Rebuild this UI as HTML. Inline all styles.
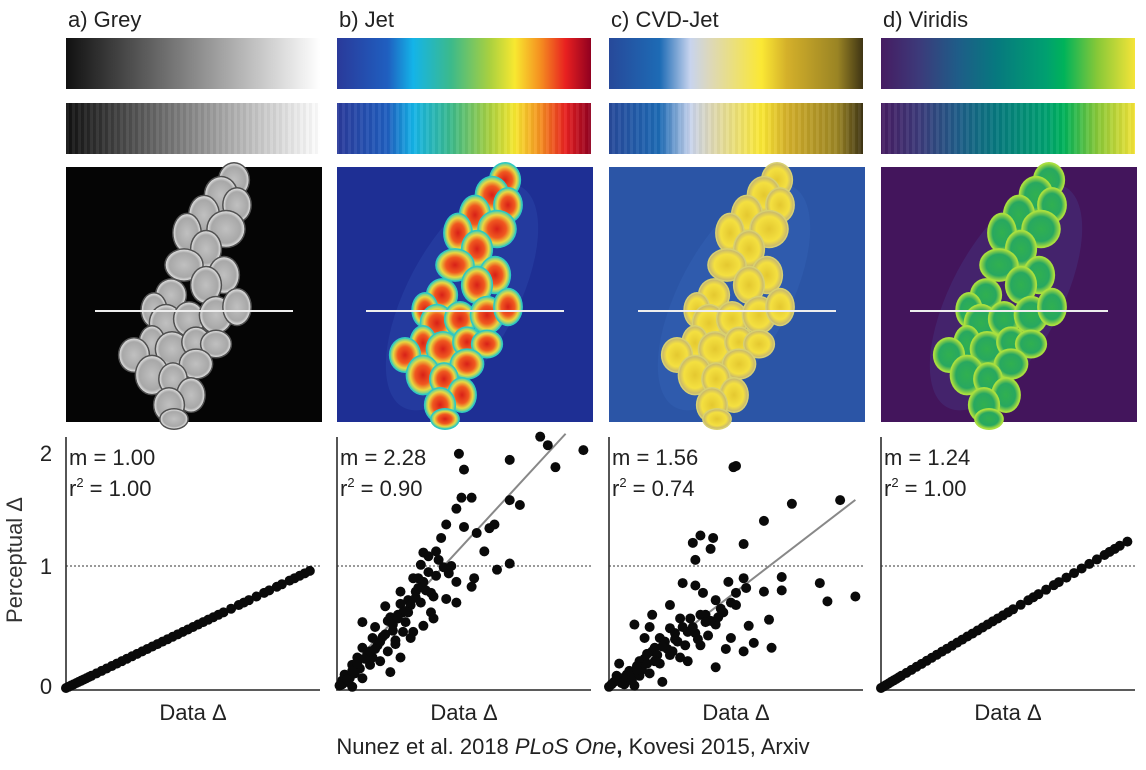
<!DOCTYPE html>
<html><head><meta charset="utf-8"><style>
html,body{margin:0;padding:0;background:#fff;width:1146px;height:770px;overflow:hidden}
svg{display:block;font-family:"Liberation Sans",sans-serif}
</style></head><body>
<svg id="fig" width="1146" height="770" viewBox="0 0 1146 770" xmlns="http://www.w3.org/2000/svg">
<defs>
<linearGradient id="g-grey"><stop offset="0" stop-color="#111"/><stop offset="1" stop-color="#fff"/></linearGradient>
<linearGradient id="g-jet"><stop offset="0" stop-color="#2a3a9a"/><stop offset="0.2" stop-color="#1f5fc0"/><stop offset="0.3" stop-color="#14b4e8"/><stop offset="0.45" stop-color="#3cba8a"/><stop offset="0.6" stop-color="#a8d040"/><stop offset="0.7" stop-color="#f8e830"/><stop offset="0.8" stop-color="#f59020"/><stop offset="0.9" stop-color="#e82020"/><stop offset="1" stop-color="#900020"/></linearGradient>
<linearGradient id="g-cvd"><stop offset="0" stop-color="#27499a"/><stop offset="0.2" stop-color="#1d6bb5"/><stop offset="0.32" stop-color="#c8d4ee"/><stop offset="0.4" stop-color="#ddd8b8"/><stop offset="0.6" stop-color="#fbe834"/><stop offset="0.7" stop-color="#d4b02a"/><stop offset="0.9" stop-color="#9a8424"/><stop offset="1" stop-color="#3e3414"/></linearGradient>
<linearGradient id="g-vir"><stop offset="0" stop-color="#461c62"/><stop offset="0.15" stop-color="#3c3a7a"/><stop offset="0.3" stop-color="#1f5c88"/><stop offset="0.45" stop-color="#07787f"/><stop offset="0.65" stop-color="#00a070"/><stop offset="0.72" stop-color="#00b35a"/><stop offset="0.85" stop-color="#86c838"/><stop offset="1" stop-color="#f5e438"/></linearGradient>
<pattern id="stripes" width="6" height="10" patternUnits="userSpaceOnUse"><rect width="3" height="10" fill="rgba(255,255,255,0.06)"/><rect x="3" width="3" height="10" fill="rgba(0,0,0,0.03)"/></pattern>
<radialGradient id="c-grey"><stop offset="0" stop-color="#c0c0c0"/><stop offset="0.8" stop-color="#a8a8a8"/><stop offset="1" stop-color="#e0e0e0"/></radialGradient>
<radialGradient id="c-jet"><stop offset="0" stop-color="#d82018"/><stop offset="0.5" stop-color="#f05820"/><stop offset="0.8" stop-color="#e8d840"/><stop offset="1" stop-color="#60d0a0"/></radialGradient>
<radialGradient id="c-cvd"><stop offset="0" stop-color="#e4c830"/><stop offset="0.7" stop-color="#f4e040"/><stop offset="1" stop-color="#c8b870"/></radialGradient>
<radialGradient id="c-vir"><stop offset="0" stop-color="#30b050"/><stop offset="0.7" stop-color="#28a860"/><stop offset="1" stop-color="#a0d840"/></radialGradient>
</defs>
<g id="panels"></g>
<text x="22" y="560" font-size="22" fill="#333" text-anchor="middle" transform="rotate(-90 22 560)">Perceptual Δ</text>
<text x="46" y="461" font-size="22" fill="#222" text-anchor="middle">2</text>
<text x="46" y="574" font-size="22" fill="#222" text-anchor="middle">1</text>
<text x="46" y="694" font-size="22" fill="#222" text-anchor="middle">0</text>
<text x="573" y="754" font-size="22" fill="#222" text-anchor="middle">Nunez et al. 2018 <tspan font-style="italic">PLoS One</tspan><tspan font-weight="bold">,</tspan> Kovesi 2015, Arxiv</text>
</svg>
<script>
// ---- data ----
const panelTitles = ["a) Grey","b) Jet","c) CVD-Jet","d) Viridis"];
const slopeLabels = ["m = 1.00","m = 2.28","m = 1.56","m = 1.24"];
const r2Labels = ["1.00","0.90","0.74","1.00"];
const fitSlopes = [null, 2.26, 1.6, null];
const fitIntercepts = [null, 0.05, -0.01, null];
const fitRanges = [null, [0.08,0.9], [0.3,0.97], null];
const aX = [0,0.01,0.02,0.03,0.04,0.05,0.06,0.07,0.08,0.09,0.1,0.12,0.14,0.16,0.18,0.2,0.22,0.24,0.26,0.28,0.3,0.32,0.34,0.36,0.38,0.4,0.42,0.44,0.46,0.48,0.5,0.52,0.54,0.56,0.58,0.6,0.62,0.65,0.68,0.7,0.72,0.75,0.78,0.8,0.83,0.85,0.88,0.9,0.92,0.94,0.96];
const aY = [0,0.01,0.02,0.03,0.04,0.05,0.06,0.07,0.08,0.09,0.1,0.12,0.14,0.16,0.18,0.2,0.22,0.24,0.26,0.28,0.3,0.32,0.34,0.36,0.38,0.4,0.42,0.44,0.46,0.48,0.5,0.52,0.54,0.56,0.58,0.6,0.62,0.65,0.68,0.7,0.72,0.75,0.78,0.8,0.83,0.85,0.88,0.9,0.92,0.94,0.96];
const bX = [0.48,0.50,0.68,0.80,0.83,0.86,0.97,0.47,0.49,0.53,0.68,0.72,0.43,0.50,0.55,0.60,0.62,0.58,0.41,0.39,0.34,0.33,0.42,0.44,0.47,0.54,0.53,0.63,0.68,0.30,0.34,0.25,0.31,0.38,0.43,0.47,0.19,0.25,0.21,0.37,0.38,0.10,0.15,0.27,0.30,0.34,0.14,0.23,0.29,0.10,0.20,0.25,0.08,0.06,0.13,0.21,0.03,0.02,0.06,0.10,0.17,0.26,0.33,0.04,0.07,0.12,0.16,0.18,0.22,0.09,0.05,0.01,0.14,0.20,0.24,0.28,0.32,0.36,0.40,0.02,0.04,0.06,0.08,0.11,0.13,0.15,0.17,0.19,0.22,0.24,0.27,0.29,0.31,0.35,0.37,0.39,0.45,0.36,0.32,0.28,0.26,0.23];
const bY = [1.92,1.79,1.87,2.06,1.99,1.81,1.95,1.47,1.56,1.56,1.54,1.50,1.34,1.32,1.27,1.31,1.34,1.12,1.23,1.12,1.11,1.01,0.99,0.94,0.87,0.90,0.83,0.97,1.02,0.90,0.87,0.79,0.79,0.75,0.73,0.70,0.67,0.69,0.58,0.62,0.57,0.54,0.50,0.54,0.46,0.51,0.41,0.39,0.41,0.33,0.30,0.25,0.25,0.19,0.19,0.13,0.11,0.06,0.01,0.08,0.22,0.62,0.70,0.05,0.12,0.28,0.35,0.42,0.47,0.16,0.08,0.02,0.25,0.55,0.60,0.72,0.82,0.95,1.05,0.03,0.07,0.14,0.2,0.24,0.3,0.32,0.38,0.44,0.52,0.57,0.63,0.68,0.74,0.8,0.78,0.92,1.0,1.08,0.9,0.62,0.46,0.36];
const cX = [0.49,0.50,0.72,0.91,0.61,0.33,0.36,0.41,0.40,0.53,0.34,0.29,0.34,0.37,0.47,0.53,0.54,0.68,0.68,0.61,0.83,0.86,0.97,0.42,0.50,0.24,0.17,0.10,0.16,0.28,0.32,0.36,0.38,0.42,0.24,0.31,0.55,0.63,0.39,0.48,0.14,0.20,0.27,0.36,0.57,0.46,0.53,0.64,0.17,0.24,0.31,0.04,0.12,0.42,0.16,0.21,0.07,0.02,0.10,0.00,0.05,0.08,0.11,0.14,0.18,0.22,0.26,0.29,0.20,0.13,0.06,0.03,0.25,0.30,0.34,0.40,0.44,0.48,0.50,0.28,0.01,0.03,0.05,0.07,0.09,0.12,0.15,0.19,0.23,0.09,0.11,0.15,0.18,0.21,0.26,0.33,0.38,0.45,0.43,0.35];
const cY = [1.81,1.82,1.51,1.54,1.37,1.19,1.25,1.23,1.14,1.18,1.05,0.86,0.84,0.78,0.87,0.90,0.82,0.91,0.80,0.79,0.86,0.71,0.75,0.72,0.68,0.68,0.60,0.52,0.50,0.57,0.57,0.60,0.60,0.52,0.49,0.46,0.51,0.56,0.43,0.41,0.41,0.41,0.38,0.35,0.37,0.32,0.30,0.33,0.30,0.27,0.22,0.20,0.22,0.17,0.12,0.05,0.11,0.05,0.02,0.01,0.08,0.14,0.18,0.24,0.33,0.38,0.45,0.50,0.20,0.15,0.03,0.10,0.30,0.35,0.45,0.55,0.65,0.70,0.78,0.25,0.03,0.06,0.04,0.09,0.12,0.1,0.2,0.27,0.32,0.06,0.15,0.28,0.22,0.34,0.4,0.5,0.54,0.62,0.58,0.4];
const dX = [0,0.01,0.02,0.03,0.04,0.05,0.06,0.07,0.08,0.1,0.12,0.14,0.16,0.18,0.2,0.22,0.24,0.26,0.28,0.3,0.32,0.34,0.36,0.38,0.4,0.42,0.44,0.46,0.48,0.5,0.52,0.55,0.58,0.6,0.62,0.65,0.68,0.7,0.73,0.76,0.79,0.82,0.85,0.88,0.9,0.92,0.94,0.97];
const dY = [0,0.012,0.025,0.037,0.05,0.062,0.074,0.087,0.1,0.124,0.149,0.174,0.198,0.223,0.248,0.273,0.298,0.322,0.347,0.372,0.397,0.422,0.446,0.471,0.496,0.521,0.546,0.57,0.595,0.62,0.645,0.682,0.719,0.744,0.769,0.806,0.843,0.868,0.905,0.942,0.98,1.017,1.054,1.09,1.116,1.14,1.166,1.2];
const seriesX = [aX,bX,cX,dX];
const seriesY = [aY,bY,cY,dY];

// ---- layout ----
const NS = "http://www.w3.org/2000/svg";
const colX = [66,337,609,881], W = 254;
const plotTop = 437, plotBot = 690;
const gradIds = ["g-grey","g-jet","g-cvd","g-vir"];
const bgCols = ["#050505","#1e2f94","#2b55a6","#43155c"];
const cellFills = ["c-grey","c-jet","c-cvd","c-vir"];
const edgeCols = ["#505050","#30c8c0","#d8d070","#a8e040"];
const cells = [[168,13,12,14],[155,28,13,15],[171,38,11,14],[138,48,12,16],[160,62,15,15],[121,66,11,16],[140,82,12,15],[118,98,15,13],[158,108,12,15],[140,118,12,15],[105,128,12,13],[88,143,10,14],[100,156,13,15],[123,152,12,14],[150,148,13,15],[171,140,11,15],[86,176,10,14],[106,182,13,14],[130,175,11,12],[150,177,12,11],[68,188,12,14],[130,197,13,12],[86,208,13,16],[107,212,11,13],[125,228,11,14],[103,238,12,14],[108,252,11,8]];
const fig = document.getElementById('panels');
function el(tag, attrs, parent){const e=document.createElementNS(NS,tag);for(const k in attrs)e.setAttribute(k,attrs[k]);(parent||fig).appendChild(e);return e;}
const xs = (p,v)=> colX[p] + v*W;
const ys = v => 688 - v*122;

for(let p=0;p<4;p++){
  const x0 = colX[p];
  const g = el('g',{});
  
  
  const t = el('text',{x:x0+2,y:27,'font-size':22,fill:'#222'},g); t.textContent = panelTitles[p];
  
  
  const c1 = el('rect',{x:x0,y:38,width:W,height:51,fill:'url(#'+gradIds[p]+')'},g);
  
  
  const c2 = el('rect',{x:x0,y:103,width:W,height:51,fill:'url(#'+gradIds[p]+')'},g);
  
  
  el('rect',{x:x0,y:103,width:W,height:51,fill:'url(#stripes)'},g);
  const img = el('g',{},g);
  
  
  el('rect',{x:x0,y:167,width:W+2,height:255,fill:bgCols[p]},img);
  if(p>0) el('ellipse',{cx:x0+125,cy:167+130,rx:55,ry:125,fill:'rgba(80,140,230,0.12)',transform:`rotate(28 ${x0+125} 297)`},img);
  for(const [cx,cy,rx,ry] of cells){
    el('ellipse',{cx:x0+cx,cy:167+cy,rx:rx*1.22+1.5,ry:ry*1.18+1.5,fill:edgeCols[p]},img);
    el('ellipse',{cx:x0+cx,cy:167+cy,rx:rx*1.22,ry:ry*1.18,fill:'url(#'+cellFills[p]+')'},img);
  }
  el('line',{x1:x0+29,x2:x0+227,y1:311,y2:311,stroke:'#eee','stroke-width':2},img);
  const ax = el('path',{d:`M${x0} ${plotTop} V${plotBot} H${x0+W}`,fill:'none',stroke:'#444','stroke-width':1.8},g);
  
  
  const ref = el('line',{x1:x0,x2:x0+W,y1:ys(1),y2:ys(1),stroke:'#333','stroke-width':1,'stroke-dasharray':'2,2'},g);
  
  
  if(fitSlopes[p]!==null){
    const [a,b]=fitRanges[p];
    const fl = el('line',{x1:xs(p,a),y1:ys(fitSlopes[p]*a+fitIntercepts[p]),x2:xs(p,b),y2:ys(fitSlopes[p]*b+fitIntercepts[p]),stroke:'#888','stroke-width':2},g);
    
    
  }
  const X=seriesX[p], Y=seriesY[p];
  for(let i=0;i<X.length;i++){
    const d = el('circle',{cx:xs(p,X[i]),cy:ys(Y[i]),r:5,fill:'#0a0a0a'},g);
    
    
  }
  const m = el('text',{x:x0+3,y:465,'font-size':22,fill:'#222'},g); m.textContent = slopeLabels[p];
  
  
  const r = el('text',{x:x0+3,y:496,'font-size':22,fill:'#222'},g);
  r.innerHTML = 'r<tspan font-size="13" dy="-9">2</tspan><tspan dy="9"> = '+r2Labels[p]+'</tspan>';
  
  
  const xl = el('text',{x:x0+W/2,y:720,'font-size':22,fill:'#222','text-anchor':'middle'},g); xl.textContent='Data Δ';
  
  
}
</script>
</body></html>
